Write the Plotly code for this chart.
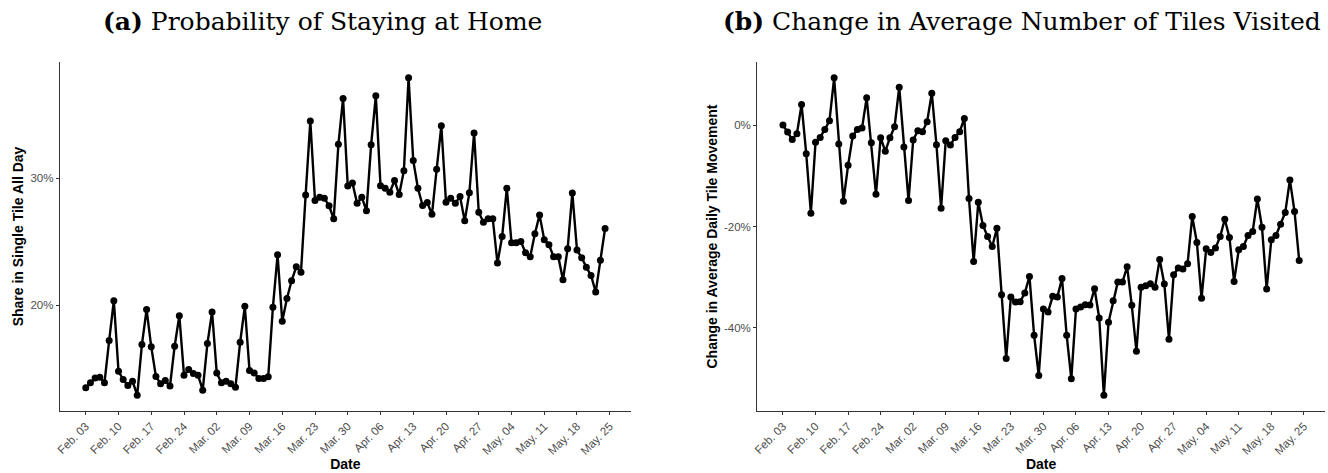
import pandas as pd
import plotly.graph_objects as go

# Daily series, Feb 03 - May 24 2020
dates = pd.date_range("2020-02-03", "2020-05-24", freq="D")

# (a) share of devices staying in a single tile all day, in percent
stay_home = [
    13.52, 13.91, 14.28, 14.35, 13.91, 17.23, 20.37,
    14.82, 14.17, 13.70, 14.04, 12.94, 16.92, 19.67,
    16.74, 14.41, 13.83, 14.09, 13.65, 16.79, 19.19,
    14.51, 14.96, 14.64, 14.51, 13.33, 17.00, 19.48,
    14.69, 13.91, 14.04, 13.83, 13.57, 17.10, 19.93,
    14.88, 14.69, 14.25, 14.25, 14.38, 19.85, 23.98,
    18.75, 20.55, 21.94, 23.04, 22.60, 28.69, 34.50,
    28.25, 28.51, 28.43, 27.83, 26.81, 32.67, 36.28,
    29.40, 29.63, 28.04, 28.51, 27.44, 32.64, 36.49,
    29.42, 29.22, 28.90, 29.82, 28.72, 30.60, 37.90,
    31.39, 29.22, 27.85, 28.09, 27.17, 30.71, 34.13,
    28.12, 28.43, 28.04, 28.56, 26.65, 28.87, 33.56,
    27.33, 26.55, 26.81, 26.81, 23.33, 25.42, 29.22,
    24.92, 24.92, 25.03, 24.14, 23.83, 25.63, 27.12,
    25.16, 24.77, 23.83, 23.83, 22.02, 24.46, 28.85,
    24.35, 23.75, 23.01, 22.36, 21.05, 23.56, 26.05,
]

# (b) change in average daily tile movement vs. Feb 03, in percent
tile_change = [
    0.00, -1.38, -2.82, -1.70, 4.07, -5.64, -17.38,
    -3.41, -2.43, -0.85, 0.85, 9.31, -3.74, -15.02,
    -7.93, -2.16, -0.85, -0.59, 5.38, -3.48, -13.64,
    -2.49, -5.18, -2.49, -0.33, 7.48, -4.33, -14.89,
    -2.95, -1.11, -1.31, 0.66, 6.30, -3.87, -16.39,
    -3.08, -3.93, -2.43, -1.31, 1.31, -14.49, -26.89,
    -15.21, -19.80, -21.97, -23.93, -20.33, -33.44, -46.03,
    -33.90, -34.89, -34.82, -33.11, -29.84, -41.44, -49.38,
    -36.26, -36.85, -33.77, -33.90, -30.23, -41.44, -50.03,
    -36.26, -35.87, -35.41, -35.48, -32.26, -38.03, -53.25,
    -38.89, -34.62, -30.95, -30.95, -27.93, -35.54, -44.59,
    -32.00, -31.67, -31.28, -32.00, -26.49, -31.34, -42.23,
    -29.51, -28.20, -28.39, -27.34, -18.03, -23.15, -34.16,
    -24.39, -25.11, -24.26, -21.97, -18.56, -22.16, -30.82,
    -24.59, -23.93, -21.77, -20.98, -14.56, -20.13, -32.33,
    -22.62, -21.77, -19.54, -17.25, -10.82, -17.05, -26.69,
]

# Axis ticks
week_ticks = pd.date_range("2020-02-03", "2020-05-25", freq="7D")
week_labels = [d.strftime("%b. %d") for d in week_ticks]
stay_ticks = [20, 30]
stay_tick_labels = ["20%", "30%"]
change_ticks = [-40, -20, 0]
change_tick_labels = ["-40%", "-20%", "0%"]

titles = ["<b>(a)</b> Probability of Staying at Home",
          "<b>(b)</b> Change in Average Number of Tiles Visited"]
y_titles = ["Share in Single Tile All Day", "Change in Average Daily Tile Movement"]

W, H = 1328, 473
TICK_FONT = dict(family="Liberation Sans, Arial, sans-serif", size=11.5, color="#4d4d4d")
LABEL_FONT = dict(family="Liberation Sans, Arial, sans-serif", size=14, color="black")


def padded(lo, hi, frac=0.05):
    span = hi - lo
    return [lo - span * frac, hi + span * frac]


span = dates[-1] - dates[0]
x_range = [dates[0] - span * 0.05, dates[-1] + span * 0.05]

fig = go.Figure()
line = dict(color="black", width=2.4)
marker = dict(color="black", size=7)

fig.add_trace(go.Scatter(x=dates, y=stay_home, mode="lines+markers",
                         line=line, marker=marker, xaxis="x", yaxis="y",
                         showlegend=False, hoverinfo="x+y"))
fig.add_trace(go.Scatter(x=dates, y=tile_change, mode="lines+markers",
                         line=line, marker=marker, xaxis="x2", yaxis="y2",
                         showlegend=False, hoverinfo="x+y"))

y_dom = [(H - 411) / H, (H - 62) / H]
x_doms = [[55 / W, 628.4 / W], [755 / W, 1325 / W]]

common_x = dict(
    range=x_range, tickmode="array", tickvals=week_ticks, ticktext=week_labels,
    tickangle=-45, tickfont=TICK_FONT, ticks="outside", ticklen=3, tickwidth=1,
    tickcolor="#333333", showline=True, linecolor="#333333", linewidth=1,
    showgrid=False, zeroline=False,
    title=dict(text="<b>Date</b>", font=LABEL_FONT, standoff=1),
)
common_y = dict(
    tickfont=TICK_FONT, ticks="outside", ticklen=3, tickwidth=1,
    tickcolor="#333333", showline=True, linecolor="#333333", linewidth=1,
    showgrid=False, zeroline=False, tickmode="array",
)

fig.update_layout(
    width=W, height=H,
    margin=dict(l=0, r=0, t=0, b=0),
    plot_bgcolor="white", paper_bgcolor="white",
    xaxis=dict(domain=x_doms[0], anchor="y", **common_x),
    xaxis2=dict(domain=x_doms[1], anchor="y2", **common_x),
    yaxis=dict(domain=y_dom, anchor="x", range=padded(min(stay_home), max(stay_home)),
               tickvals=stay_ticks, ticktext=stay_tick_labels,
               title=dict(text="<b>" + y_titles[0] + "</b>", font=LABEL_FONT, standoff=3),
               **common_y),
    yaxis2=dict(domain=y_dom, anchor="x2", range=padded(min(tile_change), max(tile_change)),
                tickvals=change_ticks, ticktext=change_tick_labels,
                title=dict(text="<b>" + y_titles[1] + "</b>", font=LABEL_FONT, standoff=3),
                **common_y),
)

title_centers = [319 / W, 1021 / W]
for cx, txt in zip(title_centers, titles):
    fig.add_annotation(
        text=txt, x=cx, y=1 - 21 / H, xref="paper", yref="paper",
        xanchor="center", yanchor="middle", showarrow=False,
        font=dict(family="DejaVu Serif, Liberation Serif, serif", size=25, color="black"),
    )

fig.write_html("out.html")
